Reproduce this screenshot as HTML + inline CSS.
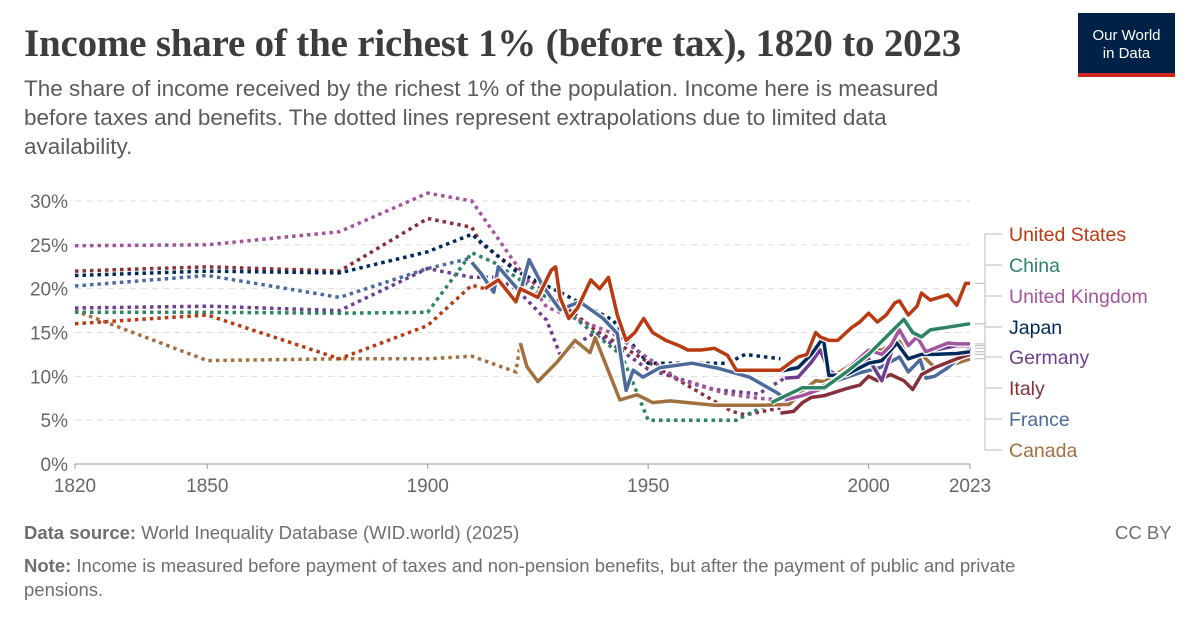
<!DOCTYPE html>
<html><head><meta charset="utf-8"><style>
body{margin:0;width:1200px;height:627px;background:#fff;font-family:"Liberation Sans",sans-serif;overflow:hidden;position:relative}
#title{position:absolute;left:24px;top:21px;font-family:"Liberation Serif",serif;font-size:39px;color:#3d3d3d;margin:0;font-weight:bold;letter-spacing:-0.2px;white-space:nowrap}
#sub{position:absolute;left:24px;top:74px;width:1000px;font-size:22.5px;line-height:29px;color:#5b5b5b;white-space:nowrap}
#logo{position:absolute;left:1078px;top:13px;width:97px;height:64px;background:#002147;color:#fff;font-size:15px;text-align:center;line-height:18px;box-sizing:border-box;padding-top:14px;border-bottom:4px solid #ce261e}
.foot{position:absolute;left:24px;font-size:18.5px;color:#6e6e6e;line-height:24px;white-space:nowrap}
</style></head><body>
<h1 id="title">Income share of the richest 1% (before tax), 1820 to 2023</h1>
<div id="sub">The share of income received by the richest 1% of the population. Income here is measured<br>before taxes and benefits. The dotted lines represent extrapolations due to limited data<br>availability.</div>
<div id="logo">Our World<br>in Data</div>
<svg id="chart" width="1200" height="627" style="position:absolute;left:0;top:0"></svg>
<div class="foot" style="top:521px"><b>Data source:</b> World Inequality Database (WID.world) (2025)</div>
<div class="foot" style="top:521px;left:1115px">CC BY</div>
<div class="foot" style="top:554px"><b>Note:</b> Income is measured before payment of taxes and non-pension benefits, but after the payment of public and private<br>pensions.</div>
<script>
const yTicks=[0,5,10,15,20,25,30];
const xTicks=[1820,1850,1900,1950,2000,2023];
const countries=["United States","China","United Kingdom","Japan","Germany","Italy","France","Canada"];
const colors=["#b83a10","#2c8465","#a2559c","#00295b","#6d3e91","#883039","#4c6a9c","#a2703f"];
const usDot=[[1820,16],[1850,17],[1880,12],[1900,15.8],[1910,20.4],[1913,20]];
const usSol=[[1913,20],[1916,21],[1920,18.5],[1921,20],[1925,19],[1928,22.1],[1929,22.5],[1930,19],[1932,16.6],[1934,17.8],[1937,21],[1939,20],[1941,21.3],[1943,17],[1945,14.1],[1947,15],[1949,16.6],[1951,15],[1954,14.1],[1957,13.5],[1959,13],[1962,13],[1965,13.2],[1968,12.4],[1970,10.7],[1975,10.7],[1980,10.7],[1984,12.2],[1986,12.5],[1988,15],[1989,14.5],[1991,14.1],[1993,14.1],[1996,15.5],[1998,16.2],[2000,17.2],[2002,16.2],[2004,17],[2006,18.4],[2007,18.6],[2009,17],[2011,18],[2012,19.5],[2014,18.7],[2016,19],[2018,19.3],[2020,18.1],[2022,20.6],[2023,20.6]];
const cnDot=[[1820,17.3],[1850,17.3],[1880,17.2],[1900,17.3],[1910,24.1],[1915,23],[1930,18],[1944,12.4],[1950,5],[1970,5],[1978,7]];
const cnSol=[[1978,7],[1980,7.5],[1985,8.7],[1990,8.7],[1995,10.5],[2000,12.5],[2003,14],[2006,15.5],[2008,16.5],[2010,15],[2012,14.5],[2014,15.3],[2018,15.6],[2023,16]];
const ukDot=[[1820,24.9],[1850,25],[1880,26.5],[1900,30.9],[1910,30],[1919,23.5],[1927,17.9],[1942,14.9],[1957,9.6],[1968,8],[1975,7.5],[1981,7.3]];
const ukSol=[[1981,7.3],[1985,7.8],[1990,8.7],[1995,10.7],[2000,13],[2003,12.5],[2005,13.5],[2007,15.3],[2009,13.5],[2011,14.5],[2013,12.8],[2015,13.2],[2018,13.8],[2020,13.7],[2023,13.7]];
const jpDot=[[1820,21.5],[1850,22],[1880,21.8],[1900,24.2],[1910,26.2],[1920,22],[1930,19.6],[1942,16.4],[1947,13.3],[1950,11.5],[1968,11.5],[1972,12.5],[1980,12]];
const jpSol=[[1980,10.6],[1984,11],[1987,12.5],[1989.7,14.4],[1991,10.1],[1995,10.2],[2000,11.5],[2003,11.8],[2006.4,13.8],[2009,12],[2012,12.5],[2015,12.5],[2020,12.6],[2023,12.8]];
const deDot=[[1820,17.8],[1850,18],[1880,17.5],[1900,22.3],[1910,21.3],[1915,21.3],[1920,20],[1927,16.4],[1930,12.5],[1938,15],[1950,10.8],[1965,8.5],[1975,8],[1981,9.8]];
const deSol=[[1981,9.8],[1984,9.9],[1987,11.6],[1989,13],[1991,10.7],[1993.5,9.9],[1996,11],[2000,12],[2003,9.5],[2006,14],[2009,12],[2012,12.5],[2015,13],[2020,13.5],[2023,13.5]];
const itDot=[[1820,22],[1850,22.5],[1880,22],[1900,28],[1910,27],[1912,25.2],[1927,19.6],[1938,15.3],[1953,10.7],[1969,6],[1972,5.6],[1980,6.4]];
const itSol=[[1980,5.8],[1983,6],[1985,7],[1987,7.6],[1990,7.8],[1995,8.6],[1998,9],[2000,10],[2002,9.5],[2005,10.2],[2008,9.5],[2010,8.5],[2012,10.2],[2015,11],[2020,12],[2023,12.5]];
const frDot=[[1820,20.3],[1850,21.5],[1880,19],[1900,22.3],[1910,23.5]];
const frSol=[[1910,23],[1912,21.8],[1915,19.6],[1916,22.5],[1921,19.6],[1923,23.3],[1926,20.4],[1930,17.6],[1934.5,18.5],[1939.8,16.6],[1943,14.9],[1945,8.4],[1946.6,10.7],[1948.8,9.9],[1952.7,11],[1960,11.5],[1966,10.9],[1973,9.9],[1979,8.2],[1981,7.5],[1985,7.8],[1991,9.2],[1998,10.4],[2002.6,11],[2007,12.2],[2009,10.5],[2011.7,11.9],[2013,9.8],[2015,10],[2018,11],[2023,13.2]];
const caDot=[[1820,17.5],[1850,11.8],[1880,12],[1900,12],[1910,12.3],[1920,10.5],[1921,13.8]];
const caSol=[[1921,13.8],[1922.5,11.1],[1925,9.4],[1929.3,11.6],[1933.4,14.1],[1936.8,12.7],[1938,14.4],[1940.6,11.1],[1943.6,7.3],[1947.5,7.9],[1951,7],[1955,7.2],[1965,6.7],[1975,6.7],[1982,6.8],[1985,8.3],[1988,9.5],[1990,9.4],[1995,11],[2000,13],[2003,13],[2007,14],[2009,12],[2012,12.5],[2015,11],[2020,11.5],[2023,12]];
const dotSeries=[usDot,cnDot,ukDot,jpDot,deDot,itDot,frDot,caDot];
const solSeries=[usSol,cnSol,ukSol,jpSol,deSol,itSol,frSol,caSol];

const NS="http://www.w3.org/2000/svg";
const svg=document.getElementById('chart');
const X0=75,X1=970,Y0=464,Y30=201;
const xs=yr=>X0+(yr-1820)*(X1-X0)/(2023-1820);
const ys=v=>Y0-v*(Y0-Y30)/30;
function mk(tag,attrs,parent){const e=document.createElementNS(NS,tag);for(const k in attrs)e.setAttribute(k,attrs[k]);(parent||svg).appendChild(e);return e;}
yTicks.forEach(t=>{
  if(t>0){const g=mk('line',{x1:75,x2:970,y1:ys(t),y2:ys(t),stroke:'#ddd','stroke-dasharray':'6,5'});
  
  }
  const tx=mk('text',{x:68,y:ys(t)+7,'text-anchor':'end','font-size':19,fill:'#666','font-family':'Liberation Sans'});
  tx.textContent=t+'%';
  
  
});
const ax=mk('line',{x1:75,x2:970,y1:Y0,y2:Y0,stroke:'#999'});


xTicks.forEach(t=>{
  mk('line',{x1:xs(t),x2:xs(t),y1:Y0,y2:Y0+5,stroke:'#999'});
  const tx=mk('text',{x:xs(t),y:492,'text-anchor':'middle','font-size':19,fill:'#666','font-family':'Liberation Sans'});
  tx.textContent=t;
  
  
});
const pts=a=>a.map(p=>xs(p[0]).toFixed(1)+','+ys(p[1]).toFixed(1)).join(' ');
for(let i=countries.length-1;i>=0;i--){
  const d=mk('polyline',{points:pts(dotSeries[i]),fill:'none',stroke:colors[i],'stroke-width':3.5,'stroke-dasharray':'3.5,4'});
  
  
}
for(let i=countries.length-1;i>=0;i--){
  mk('polyline',{points:pts(solSeries[i]),fill:'none',stroke:'#fff','stroke-width':6,'stroke-linejoin':'round'});
  const s=mk('polyline',{points:pts(solSeries[i]),fill:'none',stroke:colors[i],'stroke-width':3.5,'stroke-linejoin':'round'});
  
  
}
const labelY=[234,265,296,327,357,388,419,450];
countries.forEach((c,i)=>{
  const sv=solSeries[i], last=sv[sv.length-1][1];
  const ly=labelY[i];
  mk('polyline',{points:`${975},${ys(last)} ${985},${ys(last)} ${985},${ly} ${1002},${ly}`,fill:'none',stroke:'#bbb','stroke-width':1});
  const t=mk('text',{x:1009,y:ly+7,'font-size':19.5,fill:colors[i],'font-family':'Liberation Sans'});
  t.textContent=c;
  
  
});
</script>
</body></html>
